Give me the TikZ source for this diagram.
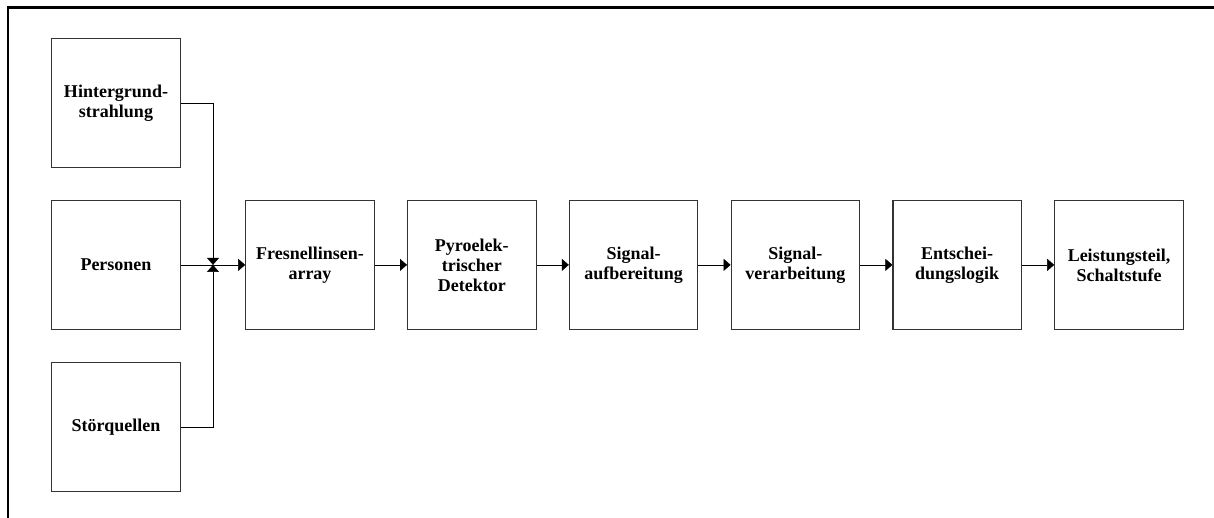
\documentclass[tikz,border=0pt]{standalone}
\usepackage{fontspec}
\setmainfont{Liberation Serif}
\usetikzlibrary{arrows.meta,backgrounds}

\begin{document}
\begin{tikzpicture}[x=1pt,y=1pt,flow/.style={-{Triangle[length=7pt,width=12pt]}}]

    % `block' is used for every stage of the detector chain.
    % `flow' is the thin signal line ending in a filled head.
    \tikzstyle{block} = [draw=black!80,line width=1.1pt,fill=white,anchor=center,minimum width=128.5pt,minimum height=128.5pt,inner sep=0pt,align=center,font=\bfseries\fontsize{18}{20}\selectfont]
    \tikzstyle{frame} = [line width=2.6pt]
    %
    \useasboundingbox (0,0) rectangle (1214,-518);
    \draw[frame] (8,-518) -- (8,-7.5) -- (1214,-7.5);

    \matrix[row sep=32.3pt, column sep=32.2pt, inner sep=0pt, anchor=north west] (chain) at (51,-38) {

    % Sources.
    \node[block] (hinter) {Hintergrund-\\strahlung}; \\

    % Main row.
    \node[block] (personen) {Personen}; &
    \coordinate (junc); &
    \node[block] (fresnel) {Fresnellinsen-\\array}; &
    \node[block] (pyro) {Pyroelek-\\trischer\\Detektor}; &
    \node[block] (aufb) {Signal-\\aufbereitung}; &
    \node[block] (verarb) {Signal-\\verarbeitung}; &
    \node[block] (logik) {Entschei-\\dungslogik}; &
    \node[block] (leistung) {Leistungsteil,\\Schaltstufe}; \\

    \node[block] (stoer) {Störquellen}; \\
    };

    \begin{pgfonlayer}{background}
        % Draw lines.
        \draw[flow] (hinter.east) -| (junc);
        \draw[flow] (stoer.east) -| (junc);
        \draw[flow] (personen.east) -- (fresnel.west);
        \draw[flow] (fresnel) -- (pyro);
        \draw[flow] (pyro) -- (aufb);
        \draw[flow] (aufb) -- (verarb);
        \draw[flow] (verarb) -- (logik);
        \draw[flow] (logik) -- (leistung);
    \end{pgfonlayer}
    %
\end{tikzpicture}
\end{document}
